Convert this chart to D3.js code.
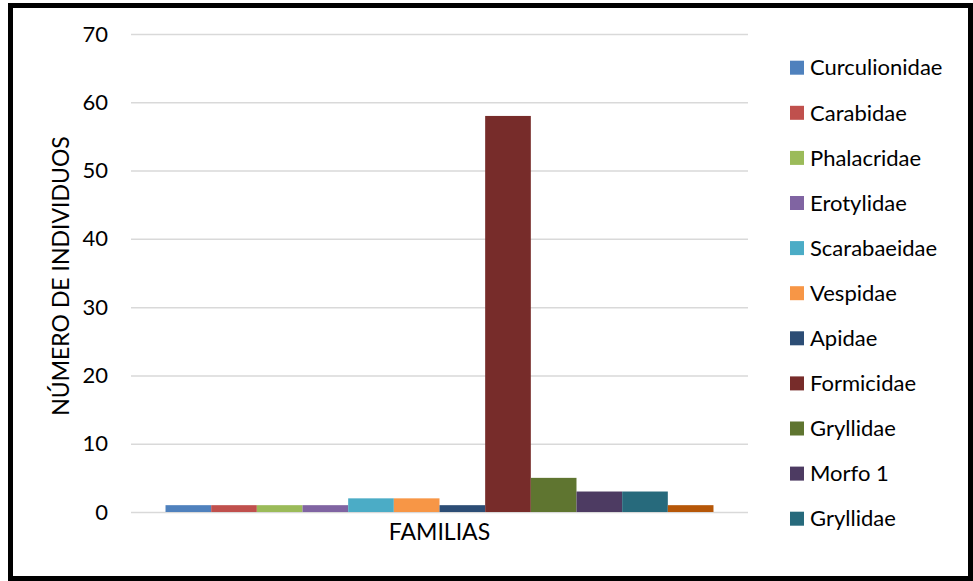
<!DOCTYPE html>
<html>
<head>
<meta charset="utf-8">
<script src="https://cdn.jsdelivr.net/npm/d3@7"></script>
<style>
  html, body { margin: 0; padding: 0; background: #fff; }
  svg { display: block; }
  text { font-family: Lato, "Open Sans", "Noto Sans", sans-serif; fill: #000; }
</style>
</head>
<body>
<svg id="chart" width="973" height="581"></svg>
<script>
// ---- data ----
const categories = ["FAMILIAS"];
const seriesNames = ["Curculionidae", "Carabidae", "Phalacridae", "Erotylidae", "Scarabaeidae",
  "Vespidae", "Apidae", "Formicidae", "Gryllidae", "Morfo 1", "Gryllidae", "Serie 12"];
const seriesValues = [1, 1, 1, 1, 2, 2, 1, 58, 5, 3, 3, 1];
const seriesColors = ["#4F81BD", "#C0504D", "#9BBB59", "#8064A2", "#4BACC6", "#F79646",
  "#2C4D75", "#772C2A", "#5F7530", "#4D3B62", "#276A7C", "#B65708"];
const yTicks = [0, 10, 20, 30, 40, 50, 60, 70];
const yTitle = "NÚMERO DE INDIVIDUOS";

// ---- layout ----
const svg = d3.select("#chart");
const plot = { left: 131, right: 748, top: 34, bottom: 512 };

// outer border
svg.append("rect")
  .attr("x", 10.5).attr("y", 5.5).attr("width", 960).attr("height", 573)
  .attr("fill", "#fff").attr("stroke", "#000").attr("stroke-width", 5);

const y = d3.scaleLinear().domain([0, 70]).range([plot.bottom, plot.top]);
const x0 = d3.scaleBand().domain(categories).range([plot.left, plot.right])
  .paddingInner(0).paddingOuter(0.063);
const idx = d3.range(seriesNames.length);
const x1 = d3.scaleBand().domain(idx).range([0, x0.bandwidth()]).padding(0);

// gridlines + tick labels via axis
const yAxis = d3.axisLeft(y).tickValues(yTicks).tickSize(-(plot.right - plot.left)).tickPadding(23);
const gy = svg.append("g").attr("transform", `translate(${plot.left},0)`).call(yAxis);
gy.select(".domain").remove();
gy.selectAll(".tick line").attr("stroke", "#D9D9D9").attr("stroke-width", 1.5);
gy.selectAll(".tick text").attr("font-size", 22).attr("fill", "#000")
  .style("font-family", "Lato, 'Open Sans', sans-serif");

// bars
const data = idx.map(i => ({ cat: categories[0], i, name: seriesNames[i], value: seriesValues[i], color: seriesColors[i] }));
svg.append("g").selectAll("rect").data(data).enter().append("rect")
  .attr("x", d => x0(d.cat) + x1(d.i))
  .attr("y", d => y(d.value))
  .attr("width", x1.bandwidth())
  .attr("height", d => y(0) - y(d.value))
  .attr("fill", d => d.color);

// category label
svg.append("text")
  .attr("x", x0(categories[0]) + x0.bandwidth() / 2)
  .attr("y", 540)
  .attr("text-anchor", "middle")
  .attr("font-size", 23)
  .text(categories[0]);

// y title
svg.append("text")
  .attr("transform", `translate(69,276) rotate(-90)`)
  .attr("text-anchor", "middle")
  .attr("font-size", 23)
  .text(yTitle);

// legend
const legTop = 67.7, legStep = 45.1;
const legItems = data.filter((d, k) => legTop + k * legStep < 540);
const lg = svg.append("g").selectAll("g").data(legItems).enter().append("g")
  .attr("transform", (d, k) => `translate(790,${legTop + k * legStep})`);
lg.append("rect").attr("x", 0).attr("y", -7).attr("width", 14).attr("height", 14).attr("fill", d => d.color);
lg.append("text").attr("x", 20).attr("y", 0).attr("dy", "0.35em").attr("font-size", 22).text(d => d.name);
</script>
</body>
</html>
